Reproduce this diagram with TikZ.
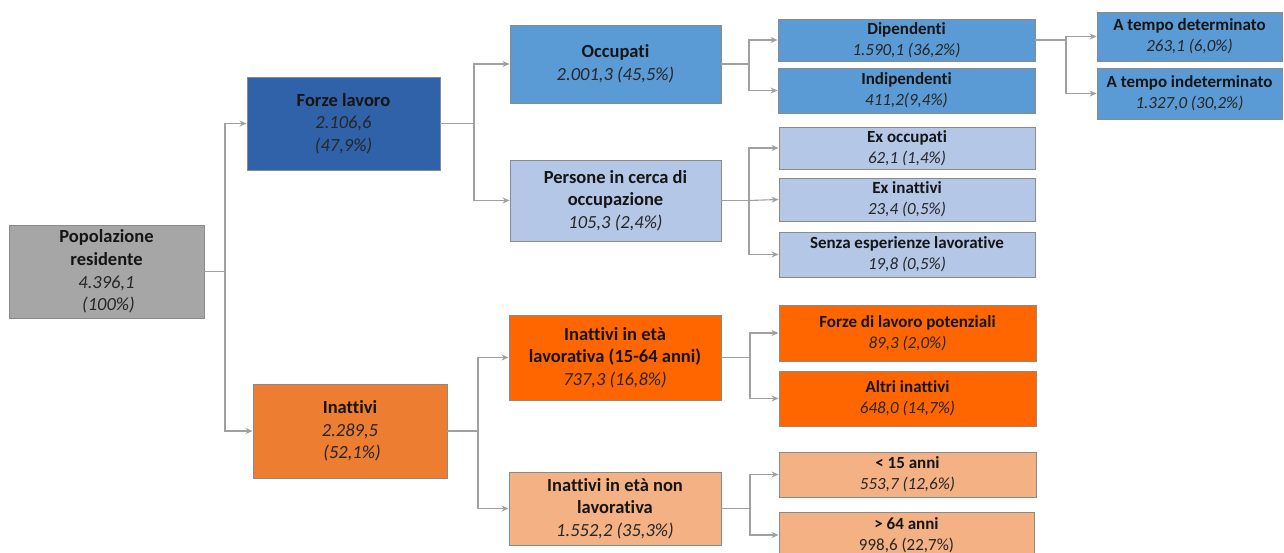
\documentclass[tikz,border=0pt]{standalone}
\usepackage{fontspec}
\setmainfont{Carlito}[Ligatures={NoCommon}]
\usetikzlibrary{arrows.meta}
\definecolor{grayc}{HTML}{A6A6A6}
\definecolor{darkblue}{HTML}{2F62A8}
\definecolor{midblue}{HTML}{5B9BD5}
\definecolor{lightblue}{HTML}{B4C7E7}
\definecolor{orangec}{HTML}{ED7D31}
\definecolor{brightor}{HTML}{FF6600}
\definecolor{lightor}{HTML}{F4B183}
\definecolor{boxline}{HTML}{8A8A8A}
\definecolor{connc}{HTML}{A0A0A0}
\definecolor{txt}{HTML}{151515}
\definecolor{numc}{HTML}{262626}
\newcommand{\num}[1]{{\color{numc}\mdseries\itshape #1}}
\tikzset{
  box/.style={draw=boxline, line width=0.9pt, align=center, inner sep=0pt, text=txt,
    font=\fontsize{18.5}{22.6}\selectfont\bfseries},
  sbox/.style={box, font=\fontsize{17}{20.6}\selectfont\bfseries},
  conn/.style={draw=connc, line width=1.1pt},
  arr/.style={conn, -{Stealth[length=7pt,width=6pt]}}
}
\begin{document}
\begin{tikzpicture}[x=1pt,y=-1pt]
\useasboundingbox (0,0) rectangle (1284,553);
% level 1
\node[box, fill=grayc, minimum width=195pt, minimum height=93pt] (pop) at (106.5,271.5)
  {Popolazione\\residente\\\num{4.396,1}\\\num{\hspace{4pt}(100\%)}};
% level 2
\node[box, fill=darkblue, minimum width=193pt, minimum height=93pt] (fl) at (343.5,123.5)
  {Forze lavoro\\\num{2.106,6}\\\num{(47,9\%)}};
\node[box, fill=orangec, minimum width=194pt, minimum height=94pt] (ina) at (350,431)
  {Inattivi\\\num{2.289,5}\\\num{\hspace{4pt}(52,1\%)}};
% level 3
\node[box, fill=midblue, minimum width=211pt, minimum height=78pt] (occ) at (615.5,64)
  {Occupati\\\num{2.001,3 (45,5\%)}};
\node[box, fill=lightblue, minimum width=211pt, minimum height=81pt] (pers) at (615.5,200.5)
  {Persone in cerca di\\occupazione\\\num{105,3 (2,4\%)}};
\node[box, fill=brightor, minimum width=212pt, minimum height=85pt] (ietl) at (615,357.5)
  {Inattivi in età\\lavorativa (15-64 anni)\\\num{737,3 (16,8\%)}};
\node[box, fill=lightor, minimum width=212pt, minimum height=73pt] (inl) at (615,508.5)
  {Inattivi in età non\\lavorativa\\\num{1.552,2 (35,3\%)}};
% level 4
\node[sbox, fill=midblue, minimum width=257pt, minimum height=42pt] (dip) at (906.5,40)
  {Dipendenti\\\num{1.590,1 (36,2\%)}};
\node[sbox, fill=midblue, minimum width=257pt, minimum height=45pt] (ind) at (906.5,90.5)
  {Indipendenti\\\num{411,2(9,4\%)}};
\node[sbox, fill=lightblue, minimum width=256pt, minimum height=42pt] (exo) at (907,148)
  {Ex occupati\\\num{62,1 (1,4\%)}};
\node[sbox, fill=lightblue, minimum width=256pt, minimum height=43pt] (exi) at (907,199.5)
  {Ex inattivi\\\num{23,4 (0,5\%)}};
\node[sbox, fill=lightblue, minimum width=256pt, minimum height=45pt] (sen) at (907,254.5)
  {Senza esperienze lavorative\\\num{19,8 (0,5\%)}};
\node[sbox, fill=brightor, minimum width=257pt, minimum height=56pt] (flp) at (907.5,333)
  {Forze di lavoro potenziali\\\num{89,3 (2,0\%)}};
\node[sbox, fill=brightor, minimum width=257pt, minimum height=55pt] (alt) at (907.5,398.5)
  {Altri inattivi\\\num{648,0 (14,7\%)}};
\node[sbox, fill=lightor, minimum width=257pt, minimum height=45pt] (l15) at (907.5,474.5)
  {< 15 anni\\\num{553,7 (12,6\%)}};
\node[sbox, fill=lightor, minimum width=255pt, minimum height=46pt] (g64) at (906.5,535)
  {> 64 anni\\{\mdseries\color{numc}998,6 (22,7\%)}};
% level 5
\node[sbox, fill=midblue, minimum width=185pt, minimum height=49pt] (det) at (1189.5,36.5)
  {A tempo determinato\\\num{263,1 (6,0\%)}};
\node[sbox, fill=midblue, minimum width=185pt, minimum height=51pt] (ind2) at (1189.5,93.5)
  {A tempo indeterminato\\\num{1.327,0 (30,2\%)}};
% junctions
\coordinate (j1) at (225,271.5);
\coordinate (j2) at (474,123.5);
\coordinate (j3) at (478,431);
\coordinate (j4) at (749,64);
\coordinate (j5) at (749,200.5);
\coordinate (j6) at (750,357.5);
\coordinate (j7) at (750,508.5);
\coordinate (j8) at (1066,40);
% connectors
\draw[conn] (pop.east) -- (j1);
\draw[arr] (j1) |- (fl.west);
\draw[arr] (j1) |- (ina.west);
\draw[conn] (fl.east) -- (j2);
\draw[arr] (j2) |- (occ.west);
\draw[arr] (j2) |- (pers.west);
\draw[conn] (ina.east) -- (j3);
\draw[arr] (j3) |- (ietl.west);
\draw[arr] (j3) |- (inl.west);
\draw[conn] (occ.east) -- (j4);
\draw[arr] (j4) |- (dip.west);
\draw[arr] (j4) |- (ind.west);
\draw[conn] (pers.east) -- (j5);
\draw[arr] (j5) |- (exo.west);
\draw[arr] (j5) -- (exi.west);
\draw[arr] (j5) |- (sen.west);
\draw[conn] (ietl.east) -- (j6);
\draw[arr] (j6) |- (flp.west);
\draw[arr] (j6) |- (alt.west);
\draw[conn] (inl.east) -- (j7);
\draw[arr] (j7) |- (l15.west);
\draw[arr] (j7) |- (g64.west);
\draw[conn] (dip.east) -- (j8);
\draw[arr] (j8) |- (det.west);
\draw[arr] (j8) |- (ind2.west);
\end{tikzpicture}
\end{document}
